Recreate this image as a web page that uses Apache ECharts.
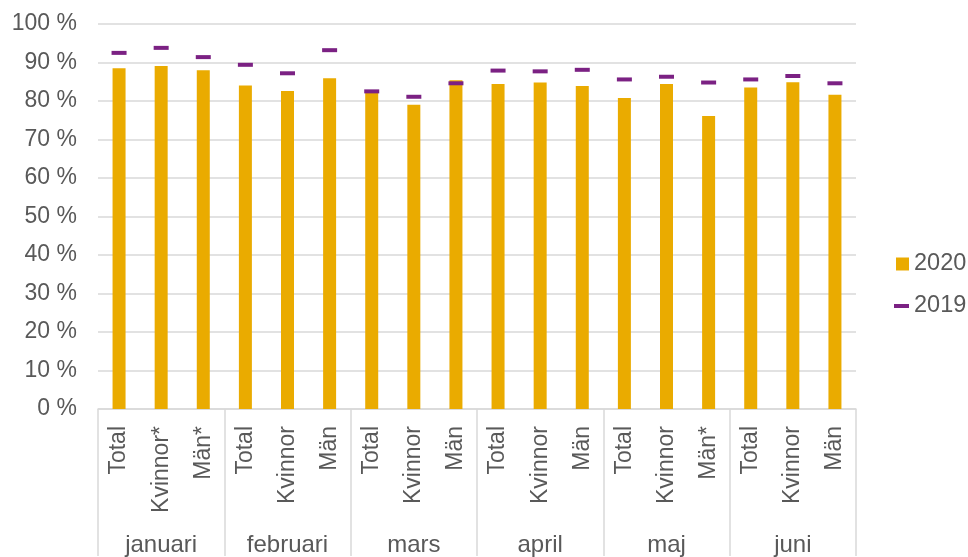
<!DOCTYPE html>
<html>
<head>
<meta charset="utf-8">
<script src="https://cdn.jsdelivr.net/npm/echarts@6/dist/echarts.min.js"></script>
<style>
html,body{margin:0;padding:0;background:#fff;}
#chart{width:968px;height:557px;}
</style>
</head>
<body>
<div id="chart"></div>
<script>
const months = ['januari', 'februari', 'mars', 'april', 'maj', 'juni'];
const subLabels = [
  ['Total', 'Kvinnor*', 'Män*'],
  ['Total', 'Kvinnor', 'Män'],
  ['Total', 'Kvinnor', 'Män'],
  ['Total', 'Kvinnor', 'Män'],
  ['Total', 'Kvinnor', 'Män*'],
  ['Total', 'Kvinnor', 'Män']
];
const values2020 = [88.5, 89.1, 88.0, 84.0, 82.6, 85.9, 82.3, 79.0, 85.4, 84.4, 84.8, 83.9, 80.8, 84.4, 76.1, 83.5, 84.9, 81.6];
const values2019 = [92.5, 93.8, 91.4, 89.4, 87.2, 93.2, 82.5, 81.1, 84.6, 87.9, 87.7, 88.1, 85.6, 86.3, 84.8, 85.6, 86.5, 84.6];
const yTicks = [0, 10, 20, 30, 40, 50, 60, 70, 80, 90, 100];

const categories = [];
months.forEach((m, i) => subLabels[i].forEach(s => categories.push(m + '|' + s)));

const textColor = '#595959';
const gridColor = '#d9d9d9';
const font = '"Liberation Sans", Arial, sans-serif';

const chart = echarts.init(document.getElementById('chart'));
chart.setOption({
  animation: false,
  backgroundColor: '#ffffff',
  textStyle: { fontFamily: font },
  grid: { left: 98, right: 112, top: 24, bottom: 147, containLabel: false },
  legend: [
    {
      data: [{ name: '2020', icon: 'rect' }], left: 896, top: 252, padding: 0,
      itemWidth: 13, itemHeight: 13, itemGap: 5,
      textStyle: { color: textColor, fontSize: 23.5, fontFamily: font }
    },
    {
      data: [{ name: '2019', icon: 'rect' }], left: 894, top: 294, padding: 0,
      itemWidth: 15, itemHeight: 4, itemGap: 5,
      textStyle: { color: textColor, fontSize: 23.5, fontFamily: font }
    }
  ],
  xAxis: [
    {
      type: 'category',
      data: categories,
      position: 'bottom',
      boundaryGap: true,
      axisLine: { show: true, lineStyle: { color: gridColor, width: 1.5 } },
      axisTick: { show: false },
      axisLabel: {
        interval: 0, rotate: 90, margin: 17,
        color: textColor, fontSize: 23, fontFamily: font,
        formatter: v => v.split('|')[1]
      }
    },
    {
      type: 'category',
      data: months,
      position: 'bottom',
      boundaryGap: true,
      axisLine: { show: false },
      axisTick: { show: true, interval: 0, length: 147, lineStyle: { color: gridColor, width: 1.5 } },
      axisLabel: { interval: 0, margin: 124, color: textColor, fontSize: 24, fontFamily: font }
    }
  ],
  yAxis: {
    type: 'value',
    min: yTicks[0], max: yTicks[yTicks.length - 1], interval: 10,
    axisLine: { show: false },
    axisTick: { show: false },
    splitLine: { show: true, lineStyle: { color: gridColor, width: 1.5 } },
    axisLabel: { margin: 21, color: textColor, fontSize: 23, fontFamily: font, formatter: '{value} %' }
  },
  series: [
    {
      name: '2020', type: 'bar', xAxisIndex: 0, data: values2020,
      barWidth: 13, itemStyle: { color: '#EAAB00' }, z: 2
    },
    {
      name: '2019', type: 'scatter', xAxisIndex: 0, data: values2019,
      symbol: 'rect', symbolSize: [15, 4], itemStyle: { color: '#7B2183', opacity: 1 }, z: 3
    }
  ]
});
</script>
</body>
</html>
